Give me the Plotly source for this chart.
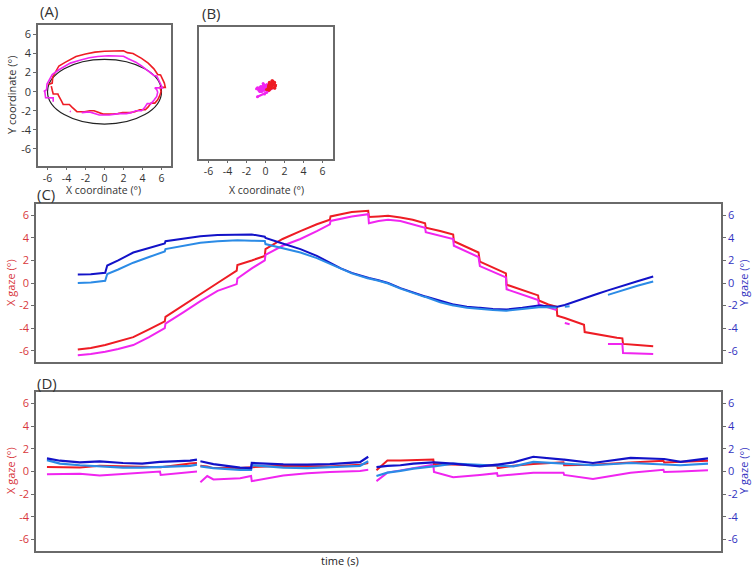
import plotly.graph_objects as go

# ---------------- Panel C data (smooth pursuit, time in s, arbitrary units) ----------------
t_c = [6.1, 8, 10.1, 10.4, 12, 14.2, 16.5, 18.8, 18.9, 21.5, 24, 26.5, 29.3, 29.4, 31.5, 33.4, 33.5,
       36, 38.6, 41, 42.9, 43.0, 44.5, 46.1, 48.5, 48.6, 50, 51.4, 53.2, 55, 56.8, 56.9, 59, 60.9,
       61.0, 62.9, 64.6, 64.8, 66.7, 68.6, 68.7, 71, 73.3, 73.4, 74.8, 76.0, 76.1, 77.2, 77.9, 78.5,
       80.0, 80.1, 82, 83.5, 84.8, 85.6, 85.7, 87.8, 90.1]
c_red = [-5.9, -5.75, -5.5, -5.45, -5.2, -4.8, -4.1, -3.4, -3.0, -2.0, -1.0, 0.0, 1.1, 1.6, 2.0, 2.4, 3.0,
         3.9, 4.6, 5.2, 5.6, 5.9, 6.1, 6.3, 6.4, 5.85, 5.9, 5.95, 5.8, 5.6, 5.3, 4.9, 4.6, 4.3,
         3.7, 3.2, 2.7, 1.9, 1.4, 0.85, -0.15, -0.6, -1.1, -1.55, -1.9, -2.1, -2.9, -3.1, -3.25, -3.4,
         -3.7, -4.35, -4.55, -4.75, -4.85, -4.9, -5.4, -5.5, -5.6]
c_magenta = [-6.4, -6.3, -6.1, -6.05, -5.85, -5.5, -4.8, -4.0, -3.6, -2.6, -1.6, -0.7, -0.1, 0.4, 1.3, 2.0, 2.5,
             3.3, 3.9, 4.6, 5.2, 5.5, 5.7, 5.9, 6.1, 5.3, 5.5, 5.6, 5.5, 5.2, 4.9, 4.5, 4.2, 3.9,
             3.3, 2.8, 2.3, 1.5, 1.0, 0.5, -0.55, -1.0, -1.5, -1.9, -2.2, -2.4, None, -3.55, -3.65, None,
             None, None, None, -5.4, -5.4, -5.4, -6.2, -6.25, -6.3]
c_darkblue = [0.75, 0.78, 0.9, 1.55, 2.0, 2.7, 3.1, 3.5, 3.7, 3.95, 4.15, 4.25, 4.3, 4.3, 4.3, 4.1, 4.0,
              3.5, 3.0, 2.4, 1.8, 1.75, 1.3, 0.9, 0.45, 0.45, 0.25, 0.0, -0.45, -0.85, -1.2, -1.2, -1.6, -1.9,
              -1.9, -2.1, -2.2, -2.2, -2.3, -2.35, -2.35, -2.2, -2.0, -2.0, -2.05, -2.1, -2.1, -1.95, -1.8, -1.65,
              -1.35, -1.33, -0.95, -0.65, -0.39, -0.25, -0.23, 0.15, 0.58]
c_lightblue = [0.0, 0.05, 0.2, 0.8, 1.2, 1.8, 2.3, 2.8, 3.0, 3.3, 3.57, 3.7, 3.78, 3.78, 3.75, 3.72, 3.45,
               3.1, 2.7, 2.2, 1.7, 1.65, 1.25, 0.85, 0.4, 0.4, 0.2, -0.05, -0.5, -0.9, -1.25, -1.25, -1.7, -2.0,
               -2.0, -2.2, -2.3, -2.3, -2.4, -2.45, -2.45, -2.3, -2.15, -2.15, -2.15, -2.2, None, -2.1, -2.05, None,
               None, None, None, -1.05, -0.8, -0.65, -0.63, -0.25, 0.14]

# ---------------- Panel D data (fixation) ----------------
t_d = [1.6, 3.5, 6.4, 9.3, 12.7, 15.5, 18.1, 18.2, 22.5, 23.5, 23.8, 24.0, 25.0, 25.9, 29.8, 31.4, 31.5,
       36.1, 39.6, 42.9, 47.3, 48.5, 49.1, 49.7, 51.3, 53.2, 55.1, 58.0, 58.1, 60.9, 64.8, 67.3, 67.4,
       69.7, 72.6, 77.0, 77.1, 81.3, 86.8, 91.6, 91.7, 94.1, 98.1]
d_red = [0.4, 0.4, 0.35, 0.5, 0.45, 0.4, 0.38, 0.38, 0.7, 0.75, None, 0.5, 0.45, 0.3, 0.3, 0.38, 0.38,
         0.5, 0.45, 0.45, 0.6, 0.75, None, 0.1, 0.97, 0.97, 1.0, 1.05, 0.65, 0.6, 0.5, 0.5, 0.3,
         0.5, 0.67, 0.82, 0.55, 0.6, 0.8, 0.95, 0.8, 0.85, 0.95]
d_magenta = [-0.25, -0.25, -0.2, -0.35, -0.2, -0.1, 0.0, -0.3, -0.05, 0.0, None, -0.95, -0.4, -0.7, -0.6, -0.4, -0.85,
             -0.35, -0.15, -0.05, 0.05, 0.15, None, -0.85, -0.1, 0.1, 0.3, 0.6, -0.05, -0.5, -0.3, -0.15, -0.4,
             -0.25, -0.1, -0.1, -0.3, -0.65, -0.1, 0.15, -0.05, 0.0, 0.1]
d_darkblue = [1.15, 0.95, 0.8, 0.9, 0.75, 0.7, 0.85, 0.85, 0.95, 1.05, None, 0.9, 0.75, 0.65, 0.35, 0.3, 0.75,
              0.62, 0.6, 0.65, 0.82, 1.3, None, 0.38, 0.5, 0.55, 0.7, 0.8, 0.8, 0.7, 0.45, 0.6, 0.6,
              0.8, 1.3, 1.05, 1.05, 0.75, 1.2, 1.1, 1.1, 0.85, 1.15]
d_lightblue = [1.0, 0.7, 0.55, 0.45, 0.35, 0.35, 0.4, 0.4, 0.5, 0.6, None, 0.45, 0.35, 0.3, 0.15, 0.15, 0.55,
               0.35, 0.3, 0.4, 0.5, 0.9, None, -0.4, -0.1, 0.05, 0.25, 0.45, 0.45, 0.7, 0.6, 0.5, 0.5,
               0.45, 0.85, 0.7, 0.7, 0.55, 0.75, 0.6, 0.6, 0.55, 0.7]

# target ellipse (panel A), semi-axes in degrees
ellipse_rx = 6.0
ellipse_ry = 3.4

tick_vals = [-6, -4, -2, 0, 2, 4, 6]
tick_text = ["-6", "-4", "-2", "0", "2", "4", "6"]

RED = "#ee1c24"
MAGENTA = "#f025f0"
DARKBLUE = "#1212c8"
LIGHTBLUE = "#2b8be6"
RED_TXT = "#d8383c"
BLUE_TXT = "#3232c0"
FRAME = "#6a6a6a"
FONT = "Open Sans"

fig = go.Figure()

# Panel A: gaze trajectories (X gaze vs Y gaze)
fig.add_trace(go.Scatter(x=c_red, y=c_darkblue, mode="lines", line=dict(color=RED, width=1.6),
                         xaxis="x", yaxis="y", showlegend=False))
fig.add_trace(go.Scatter(x=c_magenta, y=c_lightblue, mode="lines", line=dict(color=MAGENTA, width=1.6),
                         xaxis="x", yaxis="y", showlegend=False))

# Panel B: fixation cloud
fig.add_trace(go.Scatter(x=d_magenta, y=d_lightblue, mode="lines+markers", line=dict(color=MAGENTA, width=2.2),
                         marker=dict(size=3, color=MAGENTA), xaxis="x2", yaxis="y2", showlegend=False))
fig.add_trace(go.Scatter(x=d_red, y=d_darkblue, mode="lines+markers", line=dict(color=RED, width=2.2),
                         marker=dict(size=3, color=RED), xaxis="x2", yaxis="y2", showlegend=False))

# Panel C
fig.add_trace(go.Scatter(x=t_c, y=c_darkblue, mode="lines", line=dict(color=DARKBLUE, width=2),
                         xaxis="x3", yaxis="y4", showlegend=False))
fig.add_trace(go.Scatter(x=t_c, y=c_lightblue, mode="lines", line=dict(color=LIGHTBLUE, width=2),
                         xaxis="x3", yaxis="y4", showlegend=False))
fig.add_trace(go.Scatter(x=t_c, y=c_red, mode="lines", line=dict(color=RED, width=2),
                         xaxis="x3", yaxis="y3", showlegend=False))
fig.add_trace(go.Scatter(x=t_c, y=c_magenta, mode="lines", line=dict(color=MAGENTA, width=2),
                         xaxis="x3", yaxis="y3", showlegend=False))

# Panel D
fig.add_trace(go.Scatter(x=t_d, y=d_magenta, mode="lines", line=dict(color=MAGENTA, width=2),
                         xaxis="x4", yaxis="y5", showlegend=False))
fig.add_trace(go.Scatter(x=t_d, y=d_red, mode="lines", line=dict(color=RED, width=2),
                         xaxis="x4", yaxis="y5", showlegend=False))
fig.add_trace(go.Scatter(x=t_d, y=d_lightblue, mode="lines", line=dict(color=LIGHTBLUE, width=2.2),
                         xaxis="x4", yaxis="y6", showlegend=False))
fig.add_trace(go.Scatter(x=t_d, y=d_darkblue, mode="lines", line=dict(color=DARKBLUE, width=2.2),
                         xaxis="x4", yaxis="y6", showlegend=False))


def frame(**kw):
    d = dict(showline=True, linecolor=FRAME, linewidth=1.5, mirror=True, showgrid=False,
             zeroline=False, ticks="outside", ticklen=3, tickcolor=FRAME, tickwidth=1,
             tickfont=dict(family=FONT, size=11, color="#333333"))
    d.update(kw)
    return d


W, H = 753, 567


def px_x(a, b):
    return [a / W, b / W]


def px_y(top, bottom):
    return [1 - bottom / H, 1 - top / H]


fig.update_layout(
    width=W, height=H,
    margin=dict(l=0, r=0, t=0, b=0),
    paper_bgcolor="white", plot_bgcolor="white",
    font=dict(family=FONT, size=11, color="#333333"),
    xaxis=frame(domain=px_x(38, 171), range=[-7, 7], anchor="y", tickvals=tick_vals, ticktext=tick_text,
                ticklen=2, tickfont=dict(family=FONT, size=10.5, color="#333333")),
    yaxis=frame(domain=px_y(25, 166), range=[-7.8, 7], anchor="x", tickvals=tick_vals, ticktext=tick_text),
    xaxis2=frame(domain=px_x(199, 333), range=[-7, 7.1], anchor="y2", tickvals=tick_vals, ticktext=tick_text,
                 ticklen=2, tickfont=dict(family=FONT, size=10.5, color="#333333")),
    yaxis2=frame(domain=px_y(27, 159), range=[-7, 7], anchor="x2", showticklabels=False, ticks=""),
    xaxis3=frame(domain=px_x(36, 721), range=[0, 100], anchor="y3", showticklabels=False, ticks=""),
    yaxis3=frame(domain=px_y(204, 362), range=[-7, 7], anchor="x3", tickvals=tick_vals, ticktext=tick_text,
                 tickfont=dict(family=FONT, size=11, color=RED_TXT)),
    yaxis4=frame(range=[-7, 7], anchor="x3", overlaying="y3", side="right", mirror=False,
                 tickvals=tick_vals, ticktext=tick_text,
                 tickfont=dict(family=FONT, size=11, color=BLUE_TXT)),
    xaxis4=frame(domain=px_x(36, 721), range=[0, 100], anchor="y5", showticklabels=False, ticks=""),
    yaxis5=frame(domain=px_y(392, 551), range=[-7, 7], anchor="x4", tickvals=tick_vals, ticktext=tick_text,
                 tickfont=dict(family=FONT, size=11, color=RED_TXT)),
    yaxis6=frame(range=[-7, 7], anchor="x4", overlaying="y5", side="right", mirror=False,
                 tickvals=tick_vals, ticktext=tick_text,
                 tickfont=dict(family=FONT, size=11, color=BLUE_TXT)),
)

fig.add_shape(type="circle", xref="x", yref="y", x0=-ellipse_rx, x1=ellipse_rx, y0=-ellipse_ry, y1=ellipse_ry,
              line=dict(color="#222222", width=1.2), layer="below")


def ann(text, x, y, size=11, color="#333333", angle=0, xanchor="center"):
    fig.add_annotation(text=text, x=x / W, y=1 - y / H, xref="paper", yref="paper", showarrow=False,
                       font=dict(family=FONT, size=size, color=color), textangle=angle,
                       xanchor=xanchor, yanchor="middle")


ann("(A)", 38, 11, size=15, xanchor="left")
ann("(B)", 200, 13, size=15, xanchor="left")
ann("(C)", 35, 194, size=15, xanchor="left")
ann("(D)", 35, 383, size=15, xanchor="left")
ann("Y coordinate (°)", 11, 95, angle=-90)
ann("X coordinate (°)", 104, 189.5, size=10.5)
ann("X coordinate (°)", 266, 189.5, size=10.5)
ann("X gaze (°)", 10, 283, color=RED_TXT, angle=-90)
ann("Y gaze (°)", 743, 283, color=BLUE_TXT, angle=-90)
ann("X gaze (°)", 10, 471, color=RED_TXT, angle=-90)
ann("Y gaze (°)", 743, 471, color=BLUE_TXT, angle=-90)
ann("time (s)", 340, 560, color="#222222")

fig.write_html("out.html", config={"displayModeBar": False},
               post_script="document.body.style.margin='0';document.body.style.overflow='hidden';")
